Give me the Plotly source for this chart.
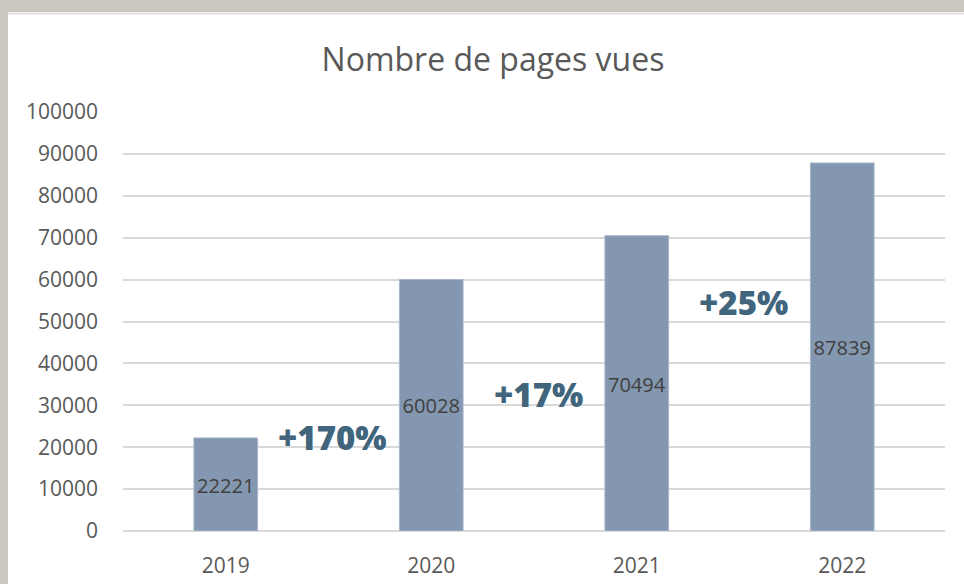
import plotly.graph_objects as go

years = ["2019", "2020", "2021", "2022"]
views = [22221, 60028, 70494, 87839]
growth_labels = ["+170%", "+17%", "+25%"]
growth_x = [0.52, 1.52, 2.52]
growth_y = [22400, 32500, 54600]
y_ticks = [0, 10000, 20000, 30000, 40000, 50000, 60000, 70000, 80000, 90000, 100000]

W, H = 964, 584
L, R, T, B = 123, 19, 112, 53
pw, ph = W - L - R, H - T - B

def px_x(x):
    return (x - L) / pw

def px_y(y):
    return (H - B - y) / ph

fig = go.Figure()
fig.add_trace(go.Bar(
    x=years, y=views,
    marker=dict(color="#8497b0", line=dict(color="#aab8ca", width=1)),
    text=[str(v) for v in views],
    textposition="inside", insidetextanchor="middle",
    textfont=dict(family="Open Sans", size=22, color="#404040"),
    textangle=0,
    width=0.31,
))

for t, x, y in zip(growth_labels, growth_x, growth_y):
    fig.add_annotation(x=x, y=y, xref="x", yref="y", text=t,
                       showarrow=False,
                       font=dict(family="Open Sans", size=33, weight=800, color="#40657c"))

shapes = [
    dict(type="rect", xref="paper", yref="paper", x0=px_x(-5), x1=px_x(W + 5),
         y0=px_y(12), y1=px_y(-5), fillcolor="#cdc8bf", line=dict(width=0), layer="below"),
    dict(type="rect", xref="paper", yref="paper", x0=px_x(-5), x1=px_x(8),
         y0=px_y(H + 5), y1=px_y(-5), fillcolor="#cdc8bf", line=dict(width=0), layer="below"),
    dict(type="line", xref="paper", yref="paper", x0=px_x(8), x1=px_x(W + 5),
         y0=px_y(13.5), y1=px_y(13.5), line=dict(color="#e4e2de", width=2), layer="below"),
]

fig.update_layout(
    width=W, height=H,
    margin=dict(l=L, r=R, t=T, b=B),
    paper_bgcolor="white", plot_bgcolor="white",
    shapes=shapes,
    showlegend=False,
    title=dict(text="Nombre de pages vues", x=493 / W, xanchor="center",
               y=1 - 60 / H, yanchor="middle",
               font=dict(family="Open Sans", size=32, color="#595959")),
    xaxis=dict(showgrid=False, showline=False, ticks="", automargin=False,
               tickfont=dict(family="Open Sans", size=21, color="#595959"),
               ticklabelstandoff=20),
    yaxis=dict(range=[0, 100000], tickvals=y_ticks, ticktext=[str(v) for v in y_ticks],
               showgrid=True, gridcolor="#d9d9d9", gridwidth=2, automargin=False,
               zeroline=True, zerolinecolor="#d9d9d9", zerolinewidth=2,
               showline=False, ticks="",
               tickfont=dict(family="Open Sans", size=21, color="#595959"),
               ticklabelstandoff=24),
    uniformtext=dict(mode=False),
)

fig.write_html("out.html", config={"displayModeBar": False},
               post_script="document.body.style.margin='0';")
